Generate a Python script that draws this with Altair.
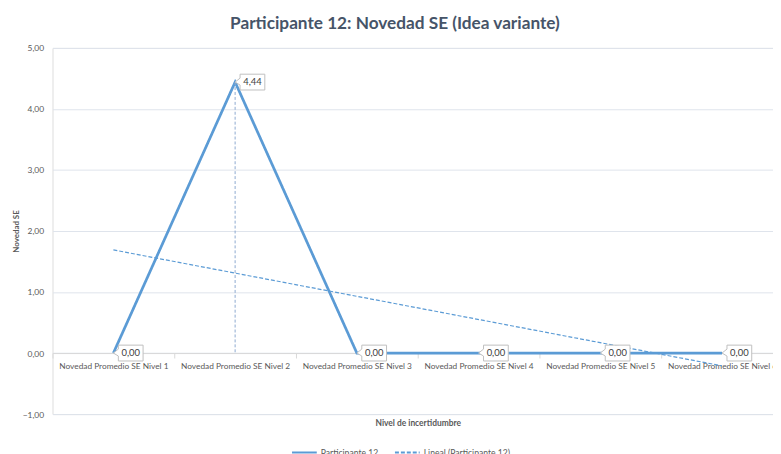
import altair as alt
import pandas as pd

# ---- data ----
categories = [
    "Novedad Promedio SE Nivel 1",
    "Novedad Promedio SE Nivel 2",
    "Novedad Promedio SE Nivel 3",
    "Novedad Promedio SE Nivel 4",
    "Novedad Promedio SE Nivel 5",
    "Novedad Promedio SE Nivel 6",
]
values = [0.0, 4.44, 0.0, 0.0, 0.0, 0.0]
trend_categories = ["Novedad Promedio SE Nivel 1", "Novedad Promedio SE Nivel 6"]
trend_values = [1.69, -0.21]
series_names = ["Participante 12", "Lineal (Participante 12)"]
y_ticks = [-1, 0, 1, 2, 3, 4, 5]

BLUE = "#5b9bd5"
GRAY = "#595959"
FONT = "Lato"

main_df = pd.DataFrame({"cat": categories, "value": values, "series": series_names[0]})
main_df["label"] = [f"{v:.2f}".replace(".", ",") for v in values]
trend_df = pd.DataFrame({"cat": trend_categories, "value": trend_values, "series": series_names[1]})
peak_i = values.index(max(values))
drop_df = pd.DataFrame({"cat": [categories[peak_i]], "value": [values[peak_i]], "zero": [0.0]})

W_VIEW = 728
H_VIEW = 370
x_scale = alt.Scale(domain=categories, range=[0, 738], paddingInner=0, paddingOuter=0)
y_scale = alt.Scale(domain=[-1, 5], nice=False, zero=False)

x_enc = alt.X(
    "cat:N", scale=x_scale, sort=categories,
    axis=alt.Axis(
        title="Nivel de incertidumbre", orient="bottom", offset=-61.67,
        labelAngle=0, labelFontSize=8.4, labelColor=GRAY, labelPadding=4,
        labelOverlap=False, labelFont=FONT,
        domainColor="#d9d9d9", tickColor="#d9d9d9", tickSize=5, tickBand="extent",
        grid=False,
        titleFont=FONT, titleFontSize=8.5, titleFontWeight="bold", titleColor=GRAY,
        titleBaseline="alphabetic", titleY=73,
    ),
)
y_enc = alt.Y(
    "value:Q", scale=y_scale,
    axis=alt.Axis(
        title="Novedad SE", values=y_ticks,
        labelExpr="replace(format(datum.value, '.2f'), '.', ',')",
        labelFontSize=8.5, labelColor=GRAY, labelPadding=9, labelFont=FONT,
        ticks=False, domain=False, grid=True, gridColor="#dfe4ec", gridWidth=1,
        titleFont=FONT, titleFontSize=8, titleFontWeight="bold", titleColor=GRAY,
        titlePadding=2,
    ),
)

dash_enc = alt.StrokeDash(
    "series:N",
    scale=alt.Scale(domain=series_names, range=[[1, 0], [4, 2]]),
    legend=alt.Legend(
        title=None, orient="none", legendX=241, legendY=395, direction="horizontal",
        symbolType="stroke", symbolSize=625, symbolStrokeColor=BLUE, symbolStrokeWidth=2,
        labelFontSize=8.7, labelColor=GRAY, labelFont=FONT, labelOffset=3,
        columnPadding=12,
    ),
)

main_line = alt.Chart(main_df).mark_line(color=BLUE, strokeWidth=2.75).encode(
    x=x_enc, y=y_enc, strokeDash=dash_enc
)
trend_line = alt.Chart(trend_df).mark_line(color=BLUE, strokeWidth=1.2).encode(
    x=alt.X("cat:N", scale=x_scale, sort=categories),
    y=alt.Y("value:Q", scale=y_scale),
    strokeDash=dash_enc,
)
drop_line = alt.Chart(drop_df).mark_rule(color="#8da9cf", strokeWidth=1, strokeDash=[3, 2]).encode(
    x=alt.X("cat:N", scale=x_scale, sort=categories, bandPosition=0.5),
    y=alt.Y("value:Q", scale=y_scale),
    y2="zero:Q",
)

callout = "M0,0 L5,-4 L5,-8 L30,-8 L30,8 L5,8 L5,3 Z"
boxes = alt.Chart(main_df).mark_point(
    shape=callout, size=4, filled=True, fill="white", stroke="#bfbfbf",
    strokeWidth=1, opacity=1, fillOpacity=1,
).encode(
    x=alt.X("cat:N", scale=x_scale, sort=categories),
    y=alt.Y("value:Q", scale=y_scale),
)
texts = alt.Chart(main_df).mark_text(
    dx=17.5, align="center", baseline="middle", fontSize=9.5, color="#404040", font=FONT
).encode(
    x=alt.X("cat:N", scale=x_scale, sort=categories),
    y=alt.Y("value:Q", scale=y_scale),
    text="label:N",
)

chart = alt.layer(main_line, trend_line, drop_line, boxes, texts).properties(
    width=W_VIEW, height=H_VIEW,
    title=alt.TitleParams(
        "Participante 12: Novedad SE (Idea variante)", fontSize=17.4, fontWeight="bold",
        color="#465468", font=FONT, anchor="middle", frame="group", dx=-18, dy=21,
        baseline="alphabetic", offset=19,
    ),
    autosize=alt.AutoSizeParams(type="none"),
    padding={"left": 45, "top": 38, "right": 0, "bottom": 38},
).configure_view(stroke=None).configure(background="white")

chart.save("out.html", embed_options={"renderer": "svg", "actions": False})
